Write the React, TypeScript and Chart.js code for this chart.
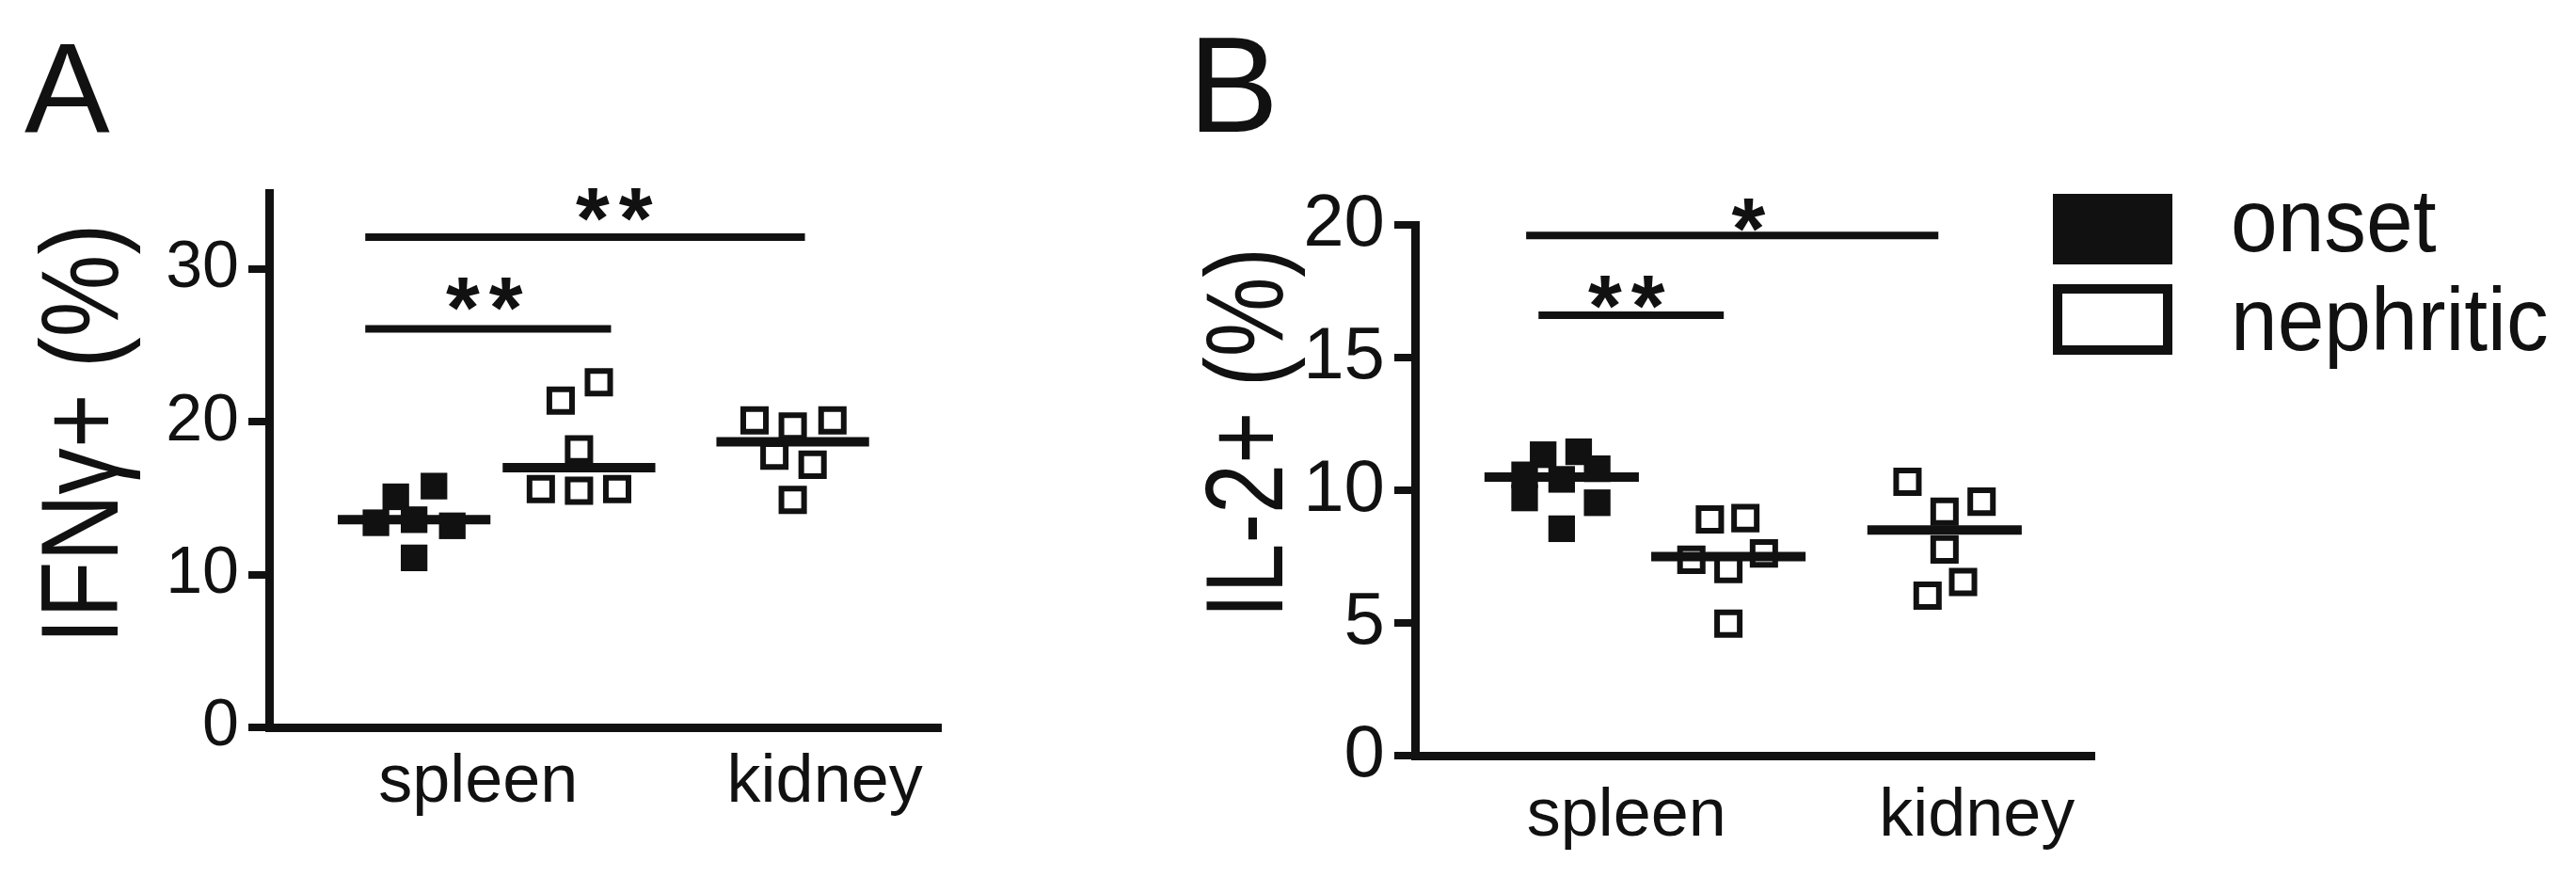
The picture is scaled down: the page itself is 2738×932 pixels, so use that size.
import React, { useEffect, useRef } from 'react';
import { Chart, registerables } from 'chart.js';

Chart.register(...registerables);

const FONT = '"Liberation Sans", Arial, Helvetica, sans-serif';
const INK = '#111';

// ---------- shared x layout (group positions on a linear x axis) ----------
const xCategories = ['spleen', 'kidney'];
const xCategoryTicks = [1.37, 3.64];
const groupX = [0.95, 2.03, 3.43]; // onset spleen, nephritic spleen, nephritic kidney

// ---------- Panel A : IFNγ+ (%) ----------
const aYTicks = [0, 10, 20, 30];
const aOnsetSpleen = [15.8, 15.1, 13.4, 13.6, 13.2, 11.1];
const aOnsetSpleenJitter = [0.13, -0.12, -0.25, 0, 0.25, 0];
const aNephSpleen = [22.6, 21.4, 18.2, 15.6, 15.5, 15.6];
const aNephSpleenJitter = [0.13, -0.12, 0, -0.25, 0, 0.25];
const aNephKidney = [20.1, 19.7, 20.1, 17.8, 17.2, 14.9];
const aNephKidneyJitter = [-0.25, 0, 0.26, -0.12, 0.13, 0];
const aMedians = [13.6, 17.0, 18.7];
const aSigFrom = [0.63, 0.63];
const aSigTo = [3.51, 2.24];
const aSigY = [32.1, 26.1];
const aSigText = ['**', '**'];
const aSigTextX = [2.26, 1.41];
const aSigTextY = [34.6, 28.8];

// ---------- Panel B : IL-2+ (%) ----------
const bYTicks = [0, 5, 10, 15, 20];
const bOnsetSpleen = [11.34, 11.45, 10.58, 10.41, 10.81, 9.71, 9.53, 8.55];
const bOnsetSpleenJitter = [-0.12, 0.11, -0.24, 0, 0.23, -0.24, 0.23, 0];
const bNephSpleen = [8.9, 8.95, 7.38, 7.03, 7.62, 4.97];
const bNephSpleenJitter = [-0.12, 0.11, -0.24, 0, 0.23, 0];
const bNephKidney = [10.32, 9.57, 9.19, 7.77, 6.54, 6.03];
const bNephKidneyJitter = [-0.24, 0.24, 0, 0, 0.12, -0.11];
const bMedians = [10.5, 7.5, 8.5];
const bSigFrom = [0.72, 0.8];
const bSigTo = [3.39, 2.0];
const bSigY = [19.6, 16.6];
const bSigText = ['*', '**'];
const bSigTextX = [2.16, 1.37];
const bSigTextY = [20.6, 17.7];

const legendLabels = ['onset', 'nephritic'];

const MEDIAN_HALF = 0.5;

const annotPlugin = {
  id: 'annot',
  afterDraw(chart: any, _args: any, opts: any) {
    const ctx = chart.ctx;
    const xs = chart.scales.x;
    const ys = chart.scales.y;
    ctx.save();
    ctx.fillStyle = INK;
    ctx.strokeStyle = INK;
    // panel letter
    ctx.font = `${opts.letterSize}px ${FONT}`;
    ctx.textAlign = 'left';
    ctx.textBaseline = 'alphabetic';
    ctx.fillText(opts.letter, opts.letterX, opts.letterY);
    // rotated y title
    ctx.save();
    ctx.translate(opts.titleX, opts.titleY);
    ctx.rotate(-Math.PI / 2);
    ctx.scale(opts.titleScale, 1);
    ctx.font = `116px ${FONT}`;
    ctx.textAlign = 'center';
    ctx.textBaseline = 'alphabetic';
    ctx.fillText(opts.title, 0, 0);
    ctx.restore();
    // significance asterisks
    const fs = 92;
    const gap = 10;
    ctx.font = `bold ${fs}px ${FONT}`;
    ctx.textAlign = 'center';
    ctx.textBaseline = 'alphabetic';
    opts.sigText.forEach((t: string, i: number) => {
      const px = xs.getPixelForValue(opts.sigTextX[i]);
      const py = ys.getPixelForValue(opts.sigTextY[i]);
      const chars = t.split('');
      const cw = ctx.measureText('*').width + gap;
      const start = px - ((chars.length - 1) * cw) / 2;
      chars.forEach((c, k) => ctx.fillText(c, start + k * cw, py + 0.575 * fs));
    });
    // legend
    if (opts.legend) {
      const L = opts.legend;
      ctx.fillRect(L.x, L.y0, L.w, L.h);
      ctx.lineWidth = 10;
      ctx.strokeRect(L.x + 5, L.y1 + 5, L.w - 10, L.h - 10);
      ctx.font = `94px ${FONT}`;
      ctx.textAlign = 'left';
      [L.b0, L.b1].forEach((b: number, k: number) => {
        ctx.save();
        ctx.translate(L.tx, b);
        ctx.scale(0.95, 1);
        ctx.fillText(legendLabels[k], 0, 0);
        ctx.restore();
      });
    }
    ctx.restore();
  },
};

function pts(values: number[], jitter: number[], g: number) {
  return values.map((v, i) => ({ x: groupX[g] + jitter[i], y: v }));
}

function makeConfig(p: any) {
  const filled = {
    type: 'scatter',
    data: pts(p.onset, p.onsetJ, 0),
    pointStyle: 'rect',
    pointRadius: 20,
    backgroundColor: INK,
    borderColor: INK,
    borderWidth: 0,
    order: 2,
  };
  const open = (vals: number[], j: number[], g: number) => ({
    type: 'scatter',
    data: pts(vals, j, g),
    pointStyle: 'rect',
    pointRadius: 17,
    backgroundColor: '#fff',
    borderColor: INK,
    borderWidth: 6,
    order: 2,
  });
  const medianSets = p.medians.map((m: number, g: number) => ({
    type: 'scatter',
    data: [
      { x: groupX[g] - MEDIAN_HALF, y: m },
      { x: groupX[g] + MEDIAN_HALF, y: m },
    ],
    showLine: true,
    pointRadius: 0,
    borderColor: INK,
    borderWidth: 10,
    order: 0,
    clip: false,
  }));
  const sigSets = p.sigFrom.map((f: number, i: number) => ({
    type: 'scatter',
    data: [
      { x: f, y: p.sigY[i] },
      { x: p.sigTo[i], y: p.sigY[i] },
    ],
    showLine: true,
    pointRadius: 0,
    borderColor: INK,
    borderWidth: 8,
    order: 0,
    clip: false,
  }));
  return {
    type: 'scatter',
    data: {
      datasets: [
        ...medianSets,
        ...sigSets,
        filled,
        open(p.neph, p.nephJ, 1),
        open(p.kid, p.kidJ, 2),
      ],
    },
    plugins: [annotPlugin],
    options: {
      responsive: false,
      maintainAspectRatio: false,
      animation: false,
      events: [],
      layout: { padding: { top: p.padTop, right: p.padRight, left: 0, bottom: 0 } },
      plugins: {
        legend: { display: false },
        tooltip: { enabled: false },
        annot: p.annot,
      },
      scales: {
        x: {
          type: 'linear',
          min: 0,
          max: 4.4,
          afterBuildTicks: (s: any) => {
            s.ticks = xCategoryTicks.map((v) => ({ value: v }));
          },
          afterFit: (s: any) => {
            s.height = p.xHeight;
          },
          grid: { display: false, drawTicks: false },
          border: { display: true, width: 9, color: INK },
          ticks: {
            autoSkip: false,
            maxRotation: 0,
            padding: p.xPad,
            color: INK,
            font: { size: 72, family: FONT },
            callback: (_v: any, i: number) => xCategories[i],
          },
        },
        y: {
          type: 'linear',
          min: 0,
          max: p.yMax,
          afterBuildTicks: (s: any) => {
            s.ticks = p.yTicks.map((v: number) => ({ value: v }));
          },
          afterFit: (s: any) => {
            s.width = p.yWidth;
          },
          grid: {
            drawOnChartArea: false,
            drawTicks: true,
            tickLength: 22,
            lineWidth: 8,
            color: INK,
          },
          border: { display: true, width: 9, color: INK },
          ticks: {
            padding: 10,
            color: INK,
            font: { size: p.yFont, family: FONT },
          },
        },
      },
    },
  };
}

function Panel(props: { cfg: any; left: number; width: number }) {
  const ref = useRef<HTMLCanvasElement>(null);
  useEffect(() => {
    if (!ref.current) return;
    const chart = new Chart(ref.current, props.cfg);
    return () => chart.destroy();
  }, []);
  return (
    <canvas
      ref={ref}
      width={props.width}
      height={932}
      style={{ position: 'absolute', left: props.left, top: 0, width: props.width, height: 932 }}
    />
  );
}

export default function App() {
  Chart.defaults.font.family = FONT;
  const cfgA = makeConfig({
    onset: aOnsetSpleen,
    onsetJ: aOnsetSpleenJitter,
    neph: aNephSpleen,
    nephJ: aNephSpleenJitter,
    kid: aNephKidney,
    kidJ: aNephKidneyJitter,
    medians: aMedians,
    sigFrom: aSigFrom,
    sigTo: aSigTo,
    sigY: aSigY,
    yMax: 35,
    yTicks: aYTicks,
    yFont: 70,
    padTop: 205,
    padRight: 200,
    yWidth: 286,
    xHeight: 159,
    xPad: 16,
    annot: {
      letter: 'A',
      letterSize: 136,
      letterX: 26,
      letterY: 140,
      title: 'IFNγ+ (%)',
      titleX: 125,
      titleY: 461,
      titleScale: 0.85,
      sigText: aSigText,
      sigTextX: aSigTextX,
      sigTextY: aSigTextY,
    },
  });
  const cfgB = makeConfig({
    onset: bOnsetSpleen,
    onsetJ: bOnsetSpleenJitter,
    neph: bNephSpleen,
    nephJ: bNephSpleenJitter,
    kid: bNephKidney,
    kidJ: bNephKidneyJitter,
    medians: bMedians,
    sigFrom: bSigFrom,
    sigTo: bSigTo,
    sigY: bSigY,
    yMax: 20,
    yTicks: bYTicks,
    yFont: 78,
    padTop: 239,
    padRight: 512,
    yWidth: 304,
    xHeight: 129,
    xPad: 22,
    annot: {
      letter: 'B',
      letterSize: 144,
      letterX: 63,
      letterY: 140,
      title: 'IL-2+ (%)',
      titleX: 163,
      titleY: 460,
      titleScale: 0.82,
      sigText: bSigText,
      sigTextX: bSigTextX,
      sigTextY: bSigTextY,
      legend: { x: 982, y0: 206, y1: 302, w: 127, h: 75, tx: 1171, b0: 267, b1: 372 },
    },
  });
  return (
    <div style={{ position: 'fixed', left: 0, top: 0, width: 2738, height: 932, background: '#fff', overflow: 'hidden' }}>
      <Panel cfg={cfgA} left={0} width={1200} />
      <Panel cfg={cfgB} left={1200} width={1538} />
    </div>
  );
}
